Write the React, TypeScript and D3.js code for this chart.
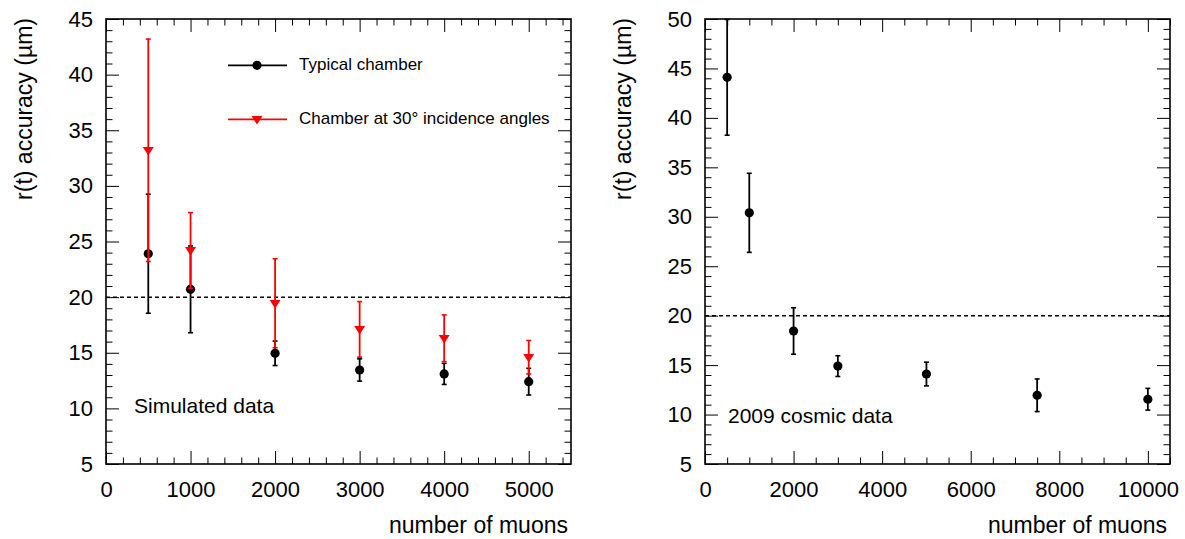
import { useEffect, useRef } from "react";
import * as d3 from "d3";

// left panel: simulated data
const simMuons = [500, 1000, 2000, 3000, 4000, 5000];
const typicalAcc = [23.9, 20.7, 14.95, 13.45, 13.1, 12.4];
const typicalErr = [5.35, 3.9, 1.1, 1.0, 0.95, 1.2];
const angledAcc = [33.2, 24.2, 19.45, 17.1, 16.3, 14.6];
const angledErr = [10.0, 3.4, 4.0, 2.5, 2.1, 1.5];

// right panel: 2009 cosmic data
const cosmicMuons = [500, 1000, 2000, 3000, 5000, 7500, 10000];
const cosmicAcc = [44.1, 30.4, 18.45, 14.9, 14.1, 11.95, 11.55];
const cosmicErr = [5.85, 4.0, 2.35, 1.05, 1.2, 1.65, 1.1];

const legendLabels = ["Typical chamber", "Chamber at 30\u00b0 incidence angles"];
const target = 20;

const font = "'Liberation Sans', Arial, Helvetica, sans-serif";

type Series = { xs: number[]; ys: number[]; errs: number[]; color: string; marker: "circle" | "tri" };

type PanelCfg = {
  left: number;
  right: number;
  top: number;
  bottom: number;
  xDomain: [number, number];
  xMajor: number[];
  xMinorStep: number;
  yDomain: [number, number];
  yStep: number;
  series: Series[];
  note: string;
  noteX: number;
  noteY: number;
};

const drawMarker = (g: any, kind: string, cx: number, cy: number, color: string) => {
  if (kind === "circle") {
    g.append("circle").attr("cx", cx).attr("cy", cy).attr("r", 4.6).attr("fill", color);
  } else {
    const s = 5.5;
    g.append("path")
      .attr("d", `M${cx - s},${cy - s * 0.6}L${cx + s},${cy - s * 0.6}L${cx},${cy + s * 0.95}Z`)
      .attr("fill", color);
  }
};

const drawPanel = (svg: any, cfg: PanelCfg) => {
  const { left, right, top, bottom } = cfg;
  const x = d3.scaleLinear().domain(cfg.xDomain).range([left, right]);
  const y = d3.scaleLinear().domain(cfg.yDomain).range([bottom, top]);

  const yMajor = d3.range(cfg.yDomain[0], cfg.yDomain[1] + 0.01, cfg.yStep);
  const yMinor = d3.range(cfg.yDomain[0], cfg.yDomain[1] + 0.01, 1).filter((v) => v % cfg.yStep !== 0);
  const xMinor = d3
    .range(cfg.xDomain[0], cfg.xDomain[1] + 0.01, cfg.xMinorStep)
    .filter((v) => !cfg.xMajor.includes(v));

  const styleAxis = (g: any) => {
    g.select(".domain").remove();
    g.selectAll("line").attr("stroke", "#000").attr("stroke-width", 1);
    g.selectAll("text").attr("font-size", 22).attr("font-family", font).attr("fill", "#000");
  };

  svg.append("g").attr("transform", `translate(0,${bottom})`)
    .call(d3.axisBottom(x).tickValues(cfg.xMajor).tickSize(-13).tickPadding(17).tickFormat(d3.format("d")))
    .call(styleAxis);
  svg.append("g").attr("transform", `translate(0,${bottom})`)
    .call(d3.axisBottom(x).tickValues(xMinor).tickSize(-6.5).tickFormat(() => ""))
    .call(styleAxis);
  svg.append("g").attr("transform", `translate(0,${top})`)
    .call(d3.axisTop(x).tickValues(cfg.xMajor).tickSize(-13).tickFormat(() => ""))
    .call(styleAxis);
  svg.append("g").attr("transform", `translate(0,${top})`)
    .call(d3.axisTop(x).tickValues(xMinor).tickSize(-6.5).tickFormat(() => ""))
    .call(styleAxis);

  svg.append("g").attr("transform", `translate(${left},0)`)
    .call(d3.axisLeft(y).tickValues(yMajor).tickSize(-13).tickPadding(13).tickFormat(d3.format("d")))
    .call(styleAxis);
  svg.append("g").attr("transform", `translate(${left},0)`)
    .call(d3.axisLeft(y).tickValues(yMinor).tickSize(-6.5).tickFormat(() => ""))
    .call(styleAxis);
  svg.append("g").attr("transform", `translate(${right},0)`)
    .call(d3.axisRight(y).tickValues(yMajor).tickSize(-13).tickFormat(() => ""))
    .call(styleAxis);
  svg.append("g").attr("transform", `translate(${right},0)`)
    .call(d3.axisRight(y).tickValues(yMinor).tickSize(-6.5).tickFormat(() => ""))
    .call(styleAxis);

  // dashed 20 um line
  svg.append("line")
    .attr("x1", left).attr("x2", right)
    .attr("y1", y(target)).attr("y2", y(target))
    .attr("stroke", "#000").attr("stroke-width", 1.5).attr("stroke-dasharray", "4,3");

  const clampY = (v: number) => Math.max(cfg.yDomain[0], Math.min(cfg.yDomain[1], v));

  cfg.series.forEach((s) => {
    const g = svg.append("g");
    s.xs.forEach((xv, i) => {
      const cx = x(xv);
      const yTop = y(clampY(s.ys[i] + s.errs[i]));
      const yBot = y(clampY(s.ys[i] - s.errs[i]));
      g.append("line").attr("x1", cx).attr("x2", cx).attr("y1", yTop).attr("y2", yBot)
        .attr("stroke", s.color).attr("stroke-width", 1.8);
      [yTop, yBot].forEach((yy) => {
        g.append("line").attr("x1", cx - 2.5).attr("x2", cx + 2.5).attr("y1", yy).attr("y2", yy)
          .attr("stroke", s.color).attr("stroke-width", 1.6);
      });
      drawMarker(g, s.marker, cx, y(s.ys[i]), s.color);
    });
  });

  // frame
  svg.append("rect")
    .attr("x", left).attr("y", top)
    .attr("width", right - left).attr("height", bottom - top)
    .attr("fill", "none").attr("stroke", "#000").attr("stroke-width", 1.6);

  svg.append("text")
    .attr("x", right - 3).attr("y", 533)
    .attr("text-anchor", "end")
    .attr("font-size", 23).attr("font-family", font)
    .text("number of muons");

  svg.append("text")
    .attr("transform", `translate(${left - 74},${top - 1}) rotate(-90)`)
    .attr("text-anchor", "end")
    .attr("font-size", 23).attr("font-family", font)
    .text("r(t) accuracy (\u00b5m)");

  svg.append("text")
    .attr("x", cfg.noteX).attr("y", cfg.noteY)
    .attr("font-size", 21).attr("font-family", font)
    .text(cfg.note);
};

const App = () => {
  const svgRef = useRef<SVGSVGElement>(null);

  useEffect(() => {
    const svg = d3.select(svgRef.current);
    svg.selectAll("*").remove();

    const typical: Series = { xs: simMuons, ys: typicalAcc, errs: typicalErr, color: "#000", marker: "circle" };
    const angled: Series = { xs: simMuons, ys: angledAcc, errs: angledErr, color: "#ff0000", marker: "tri" };
    const cosmic: Series = { xs: cosmicMuons, ys: cosmicAcc, errs: cosmicErr, color: "#000", marker: "circle" };

    drawPanel(svg, {
      left: 106, right: 571, top: 19, bottom: 464,
      xDomain: [0, 5500], xMajor: d3.range(0, 5001, 1000), xMinorStep: 200,
      yDomain: [5, 45], yStep: 5,
      series: [typical, angled],
      note: "Simulated data", noteX: 134, noteY: 413,
    });

    drawPanel(svg, {
      left: 705, right: 1170, top: 19, bottom: 464,
      xDomain: [0, 10500], xMajor: d3.range(0, 10001, 2000), xMinorStep: 500,
      yDomain: [5, 50], yStep: 5,
      series: [cosmic],
      note: "2009 cosmic data", noteX: 728, noteY: 423,
    });

    // legend
    const legend = svg.append("g");
    const entries = [typical, angled];
    const rows = [65.3, 119.3];
    entries.forEach((s, i) => {
      legend.append("line")
        .attr("x1", 228).attr("x2", 287).attr("y1", rows[i]).attr("y2", rows[i])
        .attr("stroke", s.color).attr("stroke-width", 1.8);
      drawMarker(legend, s.marker, 257, rows[i], s.color);
      legend.append("text")
        .attr("x", 299).attr("y", rows[i] + 5)
        .attr("font-size", 17).attr("font-family", font)
        .text(legendLabels[i]);
    });
  }, []);

  return (
    <svg
      ref={svgRef}
      width={1185}
      height={539}
      style={{ position: "absolute", left: 0, top: 0, background: "#fff" }}
    />
  );
};

export default App;
